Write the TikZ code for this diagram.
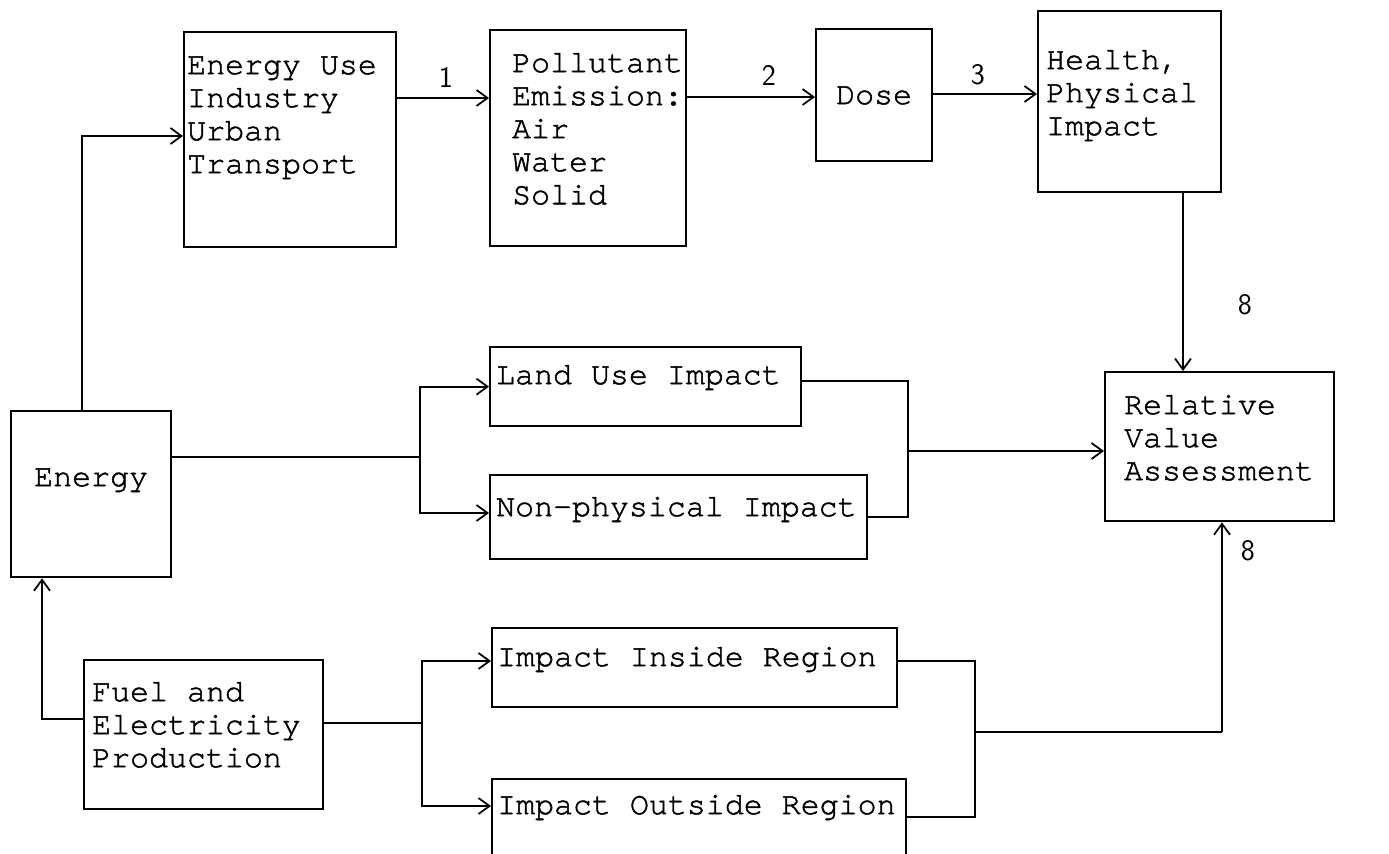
\documentclass[tikz,border=0pt]{standalone}
\usepackage{fontspec}
\newfontfamily\typew{TeX Gyre Cursor}[BoldFont={TeX Gyre Cursor},BoldFeatures={FakeBold=1.5}]
\usetikzlibrary{arrows.meta}

\tikzset{
  blk/.style={draw, line width=1.3pt, anchor=north west, inner ysep=0pt, align=flush left,
    font={\typew\bfseries\fontsize{18}{18.8}\selectfont\hyphenpenalty=10000\exhyphenpenalty=10000}},
  lbl/.style={inner sep=0pt, font=\sffamily\fontsize{17}{20}\selectfont}
}

\begin{document}
\begin{tikzpicture}[x=0.02cm,y=-0.02cm,line width=1pt,>={Straight Barb[length=0.22cm,width=0.32cm]}]
                \useasboundingbox (0,0) rectangle (1389,853);
                % boxes
                \node[blk, inner xsep=0.06cm, text width=4.12cm, text height=0.84cm, text depth=3.46cm] (eu) at (183,31) {Energy Use\\Industry\\Urban\\Transport};
                \node[blk, inner xsep=0.44cm, text width=3.04cm, text height=0.84cm, text depth=3.48cm] (pe) at (489,29) {Pollutant\\Emission:\\Air\\Water\\Solid};
                \node[blk, align=flush center, inner xsep=0pt, text width=2.32cm, text height=1.5cm, text depth=1.14cm] (dose) at (815,28) {Dose};
                \node[blk, inner xsep=0.16cm, text width=3.34cm, text height=1.16cm, text depth=2.46cm] (hp) at (1037,10) {Health,\\Physical\\Impact};
                \node[blk, inner xsep=0.38cm, text width=3.82cm, text height=0.84cm, text depth=2.14cm] (rva) at (1104,371) {Relative\\Value\\Assessment};
                \node[blk, align=flush center, inner xsep=0pt, text width=3.2cm, text height=1.5cm, text depth=1.82cm] (en) at (10,410) {Energy};
                \node[blk, inner xsep=0.12cm, text width=5.98cm, text height=0.74cm, text depth=0.84cm] (lu) at (489,346) {Land Use Impact};
                \node[blk, inner xsep=0.12cm, text width=7.3cm, text height=0.82cm, text depth=0.86cm] (np) at (489,474) {Non-physical Impact};
                \node[blk, inner xsep=0.16cm, text width=4.46cm, text height=0.82cm, text depth=2.16cm] (fep) at (83,659) {Fuel and\\Electricity\\Production};
                \node[blk, inner xsep=0.1cm, text width=7.9cm, text height=0.76cm, text depth=0.82cm] (iin) at (491,627) {Impact Inside Region};
                \node[blk, inner xsep=0.1cm, text width=8.08cm, text height=0.7cm, text depth=0.9cm] (iout) at (491,778) {Impact Outside Region};
                % top chain
                \draw[->] (eu.east |- 0,98) -- node[lbl, above=0.2cm, pos=0.53] (n1) {1} (pe.west |- 0,98);
                \draw[->] (pe.east |- 0,97) -- node[lbl, above=0.22cm, pos=0.64] (n2) {2} (dose.west |- 0,97);
                \draw[->] (dose.east |- 0,94) -- node[lbl, above=0.16cm, pos=0.43] (n3) {3} (hp.west |- 0,94);
                \draw[->] (1183,0 |- hp.south) -- (1183,0 |- rva.north);
                \node[lbl] (n8a) at (1245,305) {8};
                % energy
                \draw[->] (82,0 |- en.north) |- (eu.west |- 0,136);
                \coordinate (j1) at (420,457);
                \draw (en.east |- j1) -- (j1);
                \draw[->] (j1) |- (lu.west);
                \draw[->] (j1) |- (np.west |- 0,513);
                \coordinate (j2) at (908,451);
                \draw (lu.east |- 0,381) -| (j2) |- (np.east);
                \draw[->] (j2) -- (j2 -| rva.west);
                % production
                \draw[->] (fep.west |- 0,719) -| (42,0 |- en.south);
                \coordinate (j3) at (422,723);
                \draw (fep.east |- j3) -- (j3);
                \draw[->] (j3) |- (iin.west |- 0,661);
                \draw[->] (j3) |- (iout.west |- 0,806);
                \coordinate (j4) at (1222,732);
                \draw (iin.east |- 0,661) -| (975,0 |- j4) |- (iout.east |- 0,817);
                \draw (975,0 |- j4) -- (j4);
                \draw[->] (j4) -- (j4 |- rva.south);
                \node[lbl] (n8b) at (1248,551) {8};
\end{tikzpicture}
\end{document}
